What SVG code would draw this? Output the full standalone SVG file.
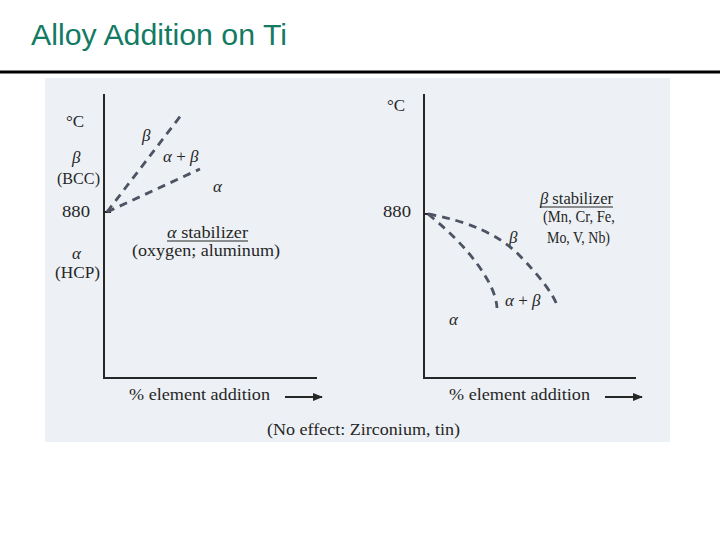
<svg xmlns="http://www.w3.org/2000/svg" width="720" height="540" viewBox="0 0 720 540">
<style>
.t{font-family:"Liberation Serif","Times New Roman",serif;font-size:17px;fill:#262626}
.g{font-style:italic}
.ax{stroke:#262626;stroke-width:2;fill:none}
.ds{stroke:#4c5363;stroke-width:2.8;stroke-dasharray:8 6;fill:none}
.ul{stroke:#262626;stroke-width:1.2}
</style>
<defs>
<marker id="ah" markerWidth="10" markerHeight="8" refX="9" refY="4" orient="auto" markerUnits="userSpaceOnUse">
<path d="M0,0 L10,4 L0,8 Z" fill="#262626"/>
</marker>
</defs>
<rect width="720" height="540" fill="#ffffff"/>
<text x="31" y="45" font-family="Liberation Sans, Arial, sans-serif" font-size="29" fill="#137a63" textLength="256" lengthAdjust="spacingAndGlyphs">Alloy Addition on Ti</text>
<line x1="0" y1="72" x2="720" y2="72" stroke="#000" stroke-width="3"/>
<rect x="45" y="78" width="625" height="364" fill="#edf1f5"/>

<g id="left-diagram">
<text class="t" x="66" y="127">°C</text>
<text class="t g" x="72" y="163" font-size="18">β</text>
<text class="t" x="57" y="184" textLength="43" lengthAdjust="spacingAndGlyphs">(BCC)</text>
<text class="t" x="62" y="217" textLength="28" lengthAdjust="spacingAndGlyphs">880</text>
<text class="t g" x="72" y="259" font-size="18">α</text>
<text class="t" x="55" y="278" textLength="45" lengthAdjust="spacingAndGlyphs">(HCP)</text>
<text class="t g" x="142" y="141" font-size="18">β</text>
<text class="t" x="163" y="162" font-size="18"><tspan class="g">α</tspan> + <tspan class="g">β</tspan></text>
<text class="t g" x="213" y="192" font-size="18">α</text>
<text class="t" x="167" y="238" textLength="81" lengthAdjust="spacingAndGlyphs"><tspan class="g">α</tspan> stabilizer</text>
<line class="ul" x1="167" y1="241" x2="248" y2="241"/>
<text class="t" x="132" y="256" textLength="148" lengthAdjust="spacingAndGlyphs">(oxygen; aluminum)</text>
<text class="t" x="129" y="400" textLength="141" lengthAdjust="spacingAndGlyphs">% element addition</text>
</g>

<g id="right-diagram">
<text class="t" x="387" y="111">°C</text>
<text class="t" x="383" y="217" textLength="28" lengthAdjust="spacingAndGlyphs">880</text>
<text class="t" x="540" y="204" textLength="73" lengthAdjust="spacingAndGlyphs"><tspan class="g">β</tspan> stabilizer</text>
<line class="ul" x1="540" y1="207" x2="613" y2="207"/>
<text class="t" x="543" y="222" textLength="72" lengthAdjust="spacingAndGlyphs">(Mn, Cr, Fe,</text>
<text class="t" x="547" y="243" textLength="63" lengthAdjust="spacingAndGlyphs">Mo, V, Nb)</text>
<text class="t g" x="509" y="243" font-size="18">β</text>
<text class="t" x="505" y="306" font-size="18"><tspan class="g">α</tspan> + <tspan class="g">β</tspan></text>
<text class="t g" x="449" y="325" font-size="18">α</text>
<text class="t" x="449" y="400" textLength="141" lengthAdjust="spacingAndGlyphs">% element addition</text>
</g>

<text class="t" x="267" y="435" textLength="193" lengthAdjust="spacingAndGlyphs">(No effect: Zirconium, tin)</text>

<g id="connectors">
<path class="ax" d="M104,94 V378 H317"/>
<line class="ax" x1="104" y1="212" x2="111" y2="212"/>
<path class="ds" d="M107,212 L182,114"/>
<path class="ds" d="M107,212 L200,169"/>
<path class="ax" d="M424,94 V378 H636"/>
<line class="ax" x1="424" y1="214" x2="431" y2="214"/>
<path class="ds" d="M428,214 Q490,225 520,256 T557,305"/>
<path class="ds" d="M428,214 Q460,240 478,265 T497,308"/>
<line class="ax" x1="285" y1="397" x2="322" y2="397" marker-end="url(#ah)"/>
<line class="ax" x1="605" y1="397" x2="642" y2="397" marker-end="url(#ah)"/>
</g>
</svg>
